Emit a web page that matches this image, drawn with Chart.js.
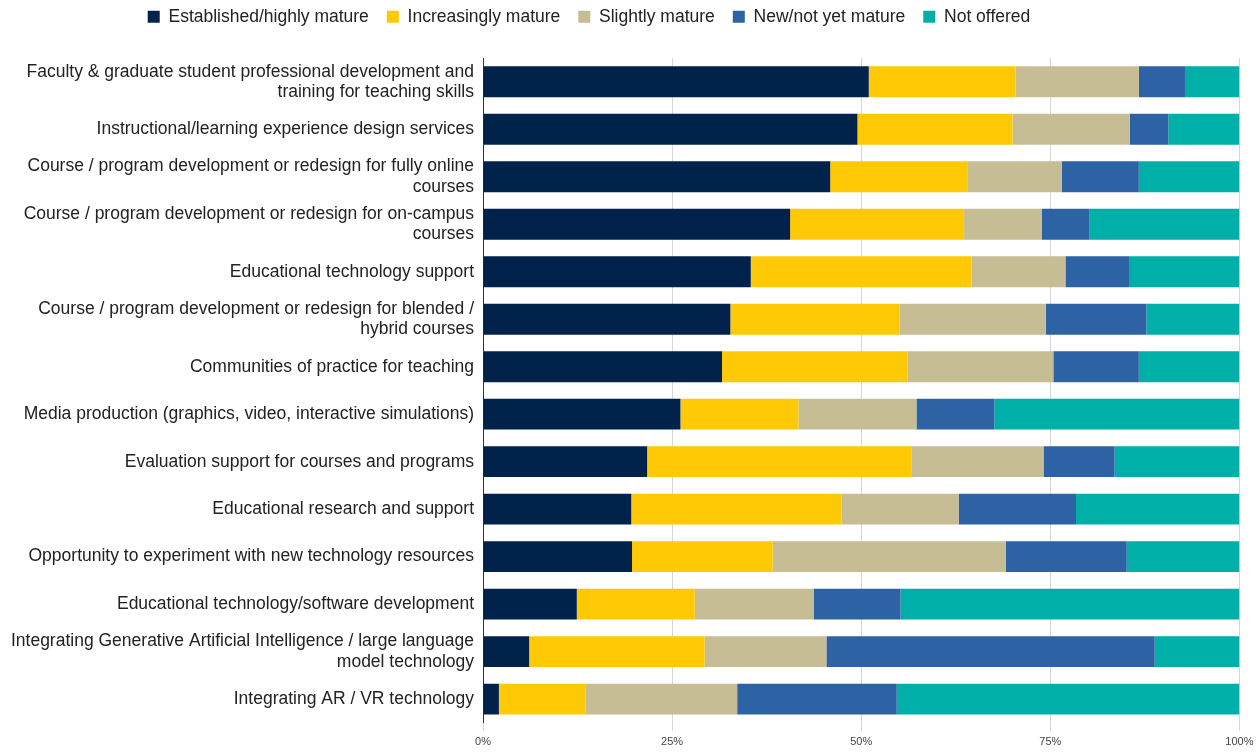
<!DOCTYPE html>
<html>
<head>
<meta charset="utf-8">
<script src="https://cdn.jsdelivr.net/npm/chart.js@4/dist/chart.umd.min.js"></script>
<style>
  html, body { margin: 0; padding: 0; background: #fff; }
  #wrap { width: 1258px; height: 752px; }
</style>
</head>
<body>
<div id="wrap"><canvas id="maturityChart"></canvas></div>
<script>
// service categories (multi-line labels wrap like the source table)
const services = [
    ["Faculty & graduate student professional development and", "training for teaching skills"],
    "Instructional/learning experience design services",
    ["Course / program development or redesign for fully online", "courses"],
    ["Course / program development or redesign for on-campus", "courses"],
    "Educational technology support",
    ["Course / program development or redesign for blended /", "hybrid courses"],
    "Communities of practice for teaching",
    "Media production (graphics, video, interactive simulations)",
    "Evaluation support for courses and programs",
    "Educational research and support",
    "Opportunity to experiment with new technology resources",
    "Educational technology/software development",
    ["Integrating Generative Artificial Intelligence / large language", "model technology"],
    "Integrating AR / VR technology"
];

// share of respondents (%) per maturity level
const established = [51.0, 49.5, 45.9, 40.6, 35.4, 32.7, 31.6, 26.1, 21.7, 19.6, 19.7, 12.4, 6.1, 2.1];
const increasing  = [19.4, 20.5, 18.2, 23.0, 29.2, 22.4, 24.5, 15.6, 35.0, 27.8, 18.6, 15.6, 23.2, 11.5];
const slightly    = [16.3, 15.5, 12.4, 10.3, 12.4, 19.3, 19.3, 15.6, 17.4, 15.5, 30.8, 15.7, 16.1, 20.0];
const newNotYet   = [6.1, 5.1, 10.2, 6.3, 8.4, 13.3, 11.3, 10.3, 9.4, 15.5, 16.0, 11.5, 43.4, 21.1];
const notOffered  = [7.2, 9.4, 13.3, 19.8, 14.6, 12.3, 13.3, 32.4, 16.5, 21.6, 14.9, 44.8, 11.2, 45.3];

const xTicks = [0, 25, 50, 75, 100];

const series = [
    { label: "Established/highly mature", data: established, color: "#00224B" },
    { label: "Increasingly mature", data: increasing, color: "#FFC905" },
    { label: "Slightly mature", data: slightly, color: "#C6BD95" },
    { label: "New/not yet mature", data: newNotYet, color: "#2D63A5" },
    { label: "Not offered", data: notOffered, color: "#00AFA8" }
];

Chart.defaults.font.family = "'Liberation Sans', Arial, sans-serif";

// fixed gap under the legend, and legend row nudged left of centre
const legendGap = {
    id: "legendGap",
    beforeInit(chart) {
        const fit = chart.legend.fit;
        chart.legend.fit = function () {
            fit.call(this);
            this.height = 68;
        };
    },
    afterLayout(chart) {
        chart.legend.right -= 68;
    }
};

new Chart(document.getElementById("maturityChart"), {
    type: "bar",
    data: {
        labels: services,
        datasets: series.map(s => ({
            label: s.label,
            data: s.data,
            backgroundColor: s.color,
            borderWidth: 0,
            barPercentage: 0.65,
            categoryPercentage: 1.0
        }))
    },
    plugins: [legendGap],
    options: {
        indexAxis: "y",
        responsive: true,
        maintainAspectRatio: false,
        animation: false,
        layout: {
            padding: { left: 0, right: 12, top: -10, bottom: -3 }
        },
        plugins: {
            legend: {
                position: "top",
                labels: {
                    boxWidth: 12,
                    boxHeight: 12,
                    padding: 18,
                    color: "#222",
                    font: { size: 17.5 }
                }
            },
            tooltip: { enabled: false }
        },
        scales: {
            x: {
                stacked: true,
                min: 0,
                max: 100,
                afterBuildTicks: axis => {
                    axis.ticks = xTicks.map(v => ({ value: v }));
                },
                ticks: {
                    callback: v => v + "%",
                    color: "#444",
                    font: { size: 11 },
                    padding: 4.5,
                    maxRotation: 0
                },
                grid: {
                    color: "#d6d6d6",
                    tickLength: 8,
                    drawTicks: true
                },
                border: { display: false }
            },
            y: {
                stacked: true,
                afterFit: axis => { axis.width = 483; },
                ticks: {
                    color: "#222",
                    font: { size: 17.5, lineHeight: 1.15 },
                    padding: 9,
                    autoSkip: false
                },
                grid: { display: false, drawTicks: false },
                border: { display: true, color: "#333", width: 1 }
            }
        }
    }
});
</script>
</body>
</html>
